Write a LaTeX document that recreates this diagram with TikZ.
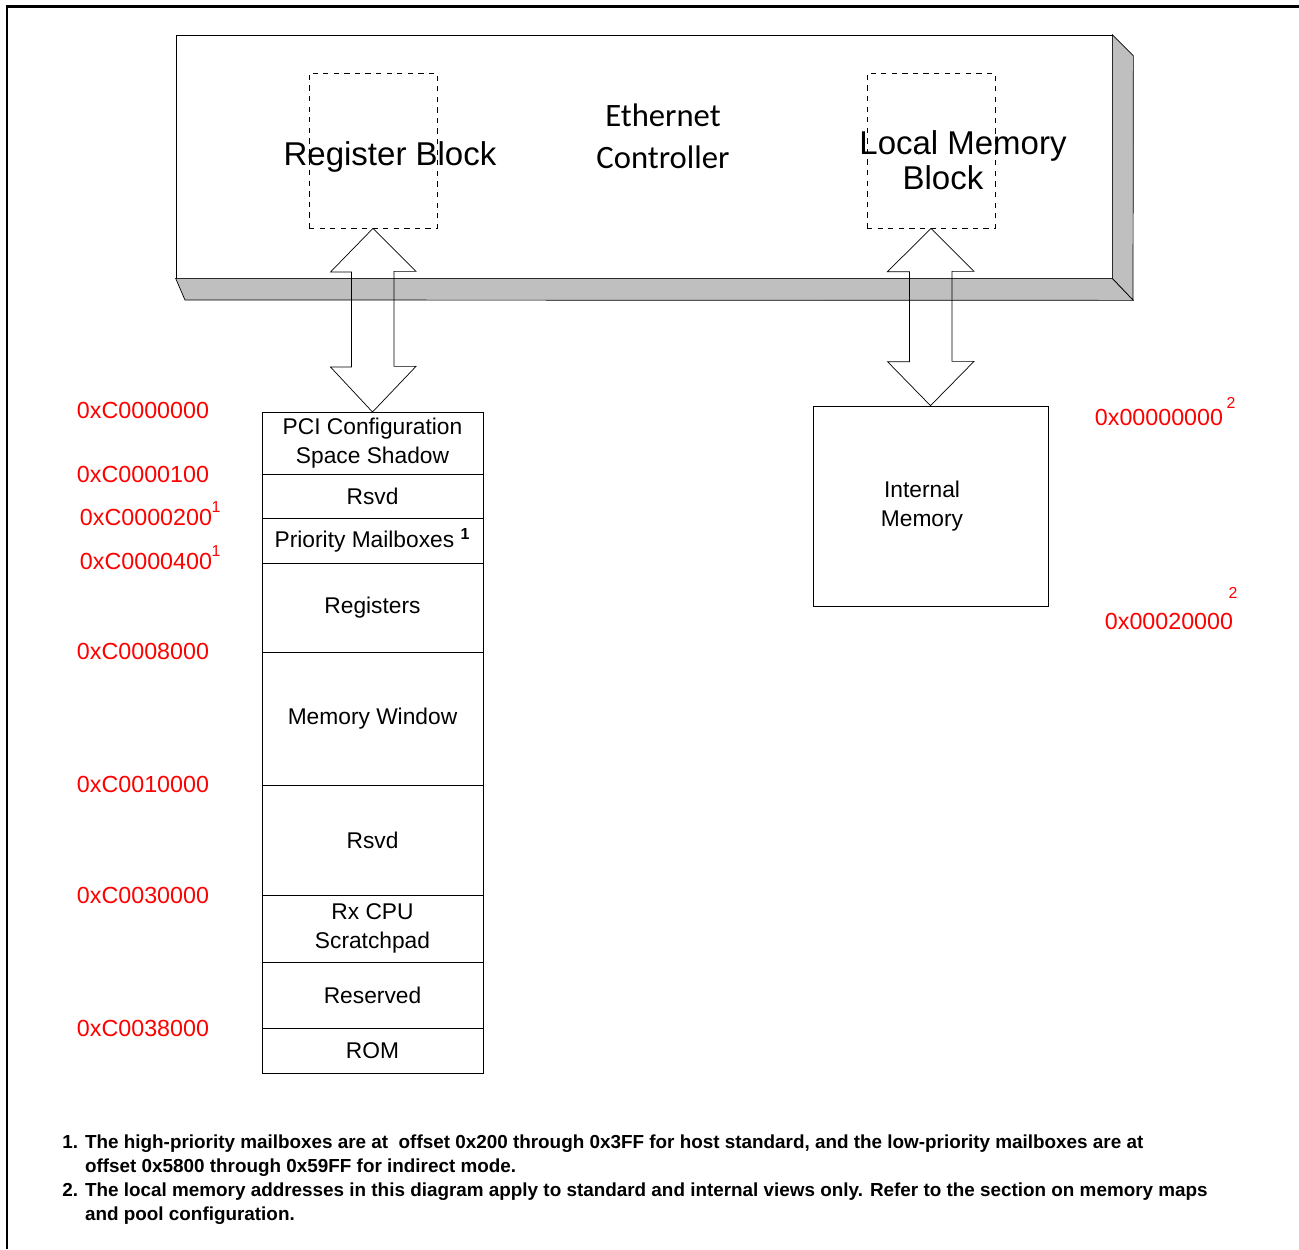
\documentclass[tikz,border=0pt]{standalone}
\usepackage{fontspec}
\setmainfont{Liberation Sans}
\newfontfamily\ctrlfont{Carlito}
\usetikzlibrary{positioning}
\def\pxu{0.5669pt} % one pixel of the drawing
\tikzset{%
  every node/.style={inner sep=0pt},
  dashbox/.style={draw, dashed, thin, minimum width=128*\pxu, minimum height=155*\pxu},
  bigtext/.style={align=center, font=\fontsize{18.7}{19.8}\selectfont},
  maprow/.style={draw, thin, outer sep=0pt, minimum width=221*\pxu, align=center, font=\fontsize{12.9}{16.4}\selectfont},
  addr/.style={text=red, font=\fontsize{13.2}{15}\selectfont},
  supnum/.style={text=red, font=\fontsize{9}{10}\selectfont},
  side/.style={draw, thin, fill=gray!50},
  note/.style={anchor=north west, align=left, font=\bfseries\fontsize{10.7}{13.6}\selectfont}
}

\begin{document}
\begin{tikzpicture}[x=0.5669pt, y=-0.5669pt]
    \useasboundingbox (0,0) rectangle (1299,1249);
    \draw[line width=1.7pt] (7,1249) -- (7,6) -- (1299,6);

    % Ethernet controller
    \node[draw, thin, fill=white, minimum width=936*\pxu, minimum height=243*\pxu] (ctrl) at (644,156.5) {};
    \draw[side] (ctrl.south west) -- (ctrl.south east) -- ++(21,22) -- (185,300) -- cycle;
    \draw[side] (ctrl.north east) -- ++(21,21) -- (1133,300) -- (ctrl.south east) -- cycle;
    \node[align=center, font=\ctrlfont\fontsize{18.5}{23.8}\selectfont] (ctrllabel) at (663,136) {Ethernet\\Controller};
    \node[dashbox] (regblk) at (373,150.5) {};
    \node[dashbox] (lmblk) at (931,150.5) {};
    \node[bigtext] (reglabel) at (390,157) {Register Block};
    \node[bigtext] (lmlabel) at (963,160) {Local Memory\\Block\hspace*{22.7pt}};

    % memory map
    \node[maprow, minimum height=62*\pxu, anchor=north] (pci) at (372.5,412) {PCI Configuration\\ Space Shadow};
    \node[maprow, minimum height=44*\pxu, below=0pt of pci] (rsvda) {Rsvd};
    \node[maprow, minimum height=45*\pxu, below=0pt of rsvda] (mbox) {Priority Mailboxes \textsuperscript{\bfseries 1}};
    \node[maprow, minimum height=89*\pxu, below=0pt of mbox] (regs) {Registers};
    \node[maprow, minimum height=133*\pxu, below=0pt of regs] (memwin) {Memory Window};
    \node[maprow, minimum height=110*\pxu, below=0pt of memwin] (rsvdb) {Rsvd};
    \node[maprow, minimum height=67*\pxu, below=0pt of rsvdb] (scratch) {Rx CPU\\Scratchpad};
    \node[maprow, minimum height=66*\pxu, below=0pt of scratch] (resv) {Reserved};
    \node[maprow, minimum height=45*\pxu, below=0pt of resv] (rom) {ROM};

    \node[addr] (a0) at (143,410) {0xC0000000};
    \node[addr] (a1) at (143,474) {0xC0000100};
    \node[addr] (a2) at (146,517) {0xC0000200};
    \node[supnum] (a2n) at (216,507) {1};
    \node[addr] (a3) at (146,561) {0xC0000400};
    \node[supnum] (a3n) at (216,551) {1};
    \node[addr] (a4) at (143,651) {0xC0008000};
    \node[addr] (a5) at (143,784) {0xC0010000};
    \node[addr] (a6) at (143,895) {0xC0030000};
    \node[addr] (a7) at (143,1028) {0xC0038000};

    % internal memory
    \node[draw, thin, minimum width=235*\pxu, minimum height=200*\pxu] (intmem) at (930.5,506) {};
    \node[align=center, font=\fontsize{12.9}{16.4}\selectfont] (memlabel) at (922,506) {Internal\\Memory};
    \node[addr] (b0) at (1159,417) {0x00000000};
    \node[supnum] (b0n) at (1231,403) {2};
    \node[addr] (b1) at (1169,621) {0x00020000};
    \node[supnum] (b1n) at (1233,593) {2};

    % block arrows
    \draw[thin] (regblk.south) -- ++(43,43) -- ++(-22,0) -- ++(0,95) -- ++(22,0) -- (pci.north)
        -- ++(-42,-45) -- ++(21,0) -- ++(0,-95) -- ++(-21,0) -- cycle;
    \draw[thin] (lmblk.south) -- ++(43,43) -- ++(-22,0) -- ++(0,90) -- ++(22,0) -- (intmem.north)
        -- ++(-43,-44) -- ++(22,0) -- ++(0,-90) -- ++(-22,0) -- cycle;

    % notes
    \node[note] (note1) at (62,1134) {1. The high-priority mailboxes are at \ offset 0x200 through 0x3FF for host standard, and the low-priority mailboxes are at\\\phantom{1. }offset 0x5800 through 0x59FF for indirect mode.};
    \node[note] (note2) at (62,1182) {2. The local memory addresses in this diagram apply to standard and internal views only. Refer to the section on memory maps\\\phantom{2. }and pool configuration.};
\end{tikzpicture}
\end{document}
